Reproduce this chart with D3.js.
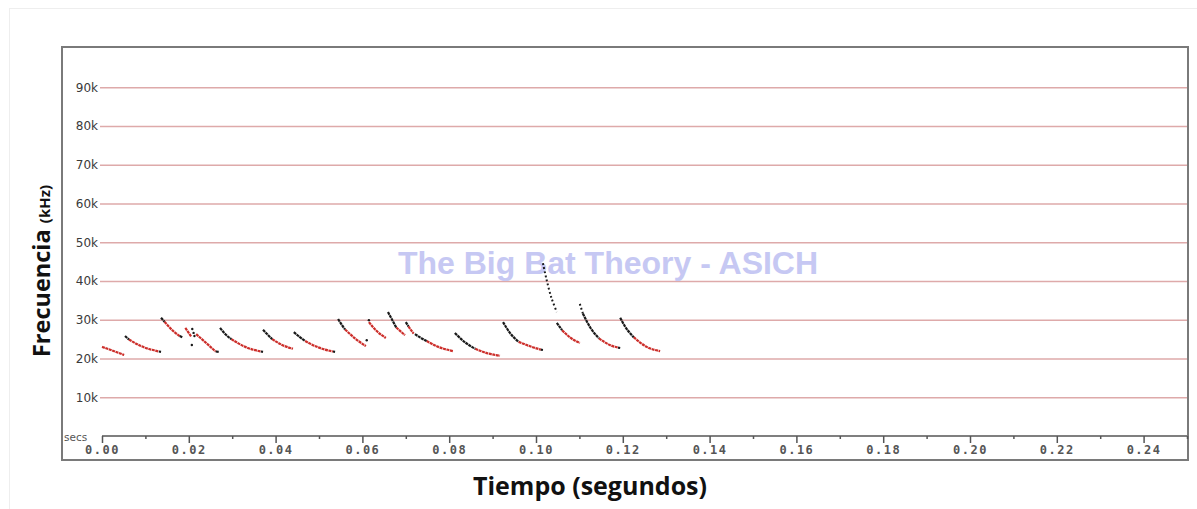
<!DOCTYPE html>
<html>
<head>
<meta charset="utf-8">
<script src="https://cdn.jsdelivr.net/npm/d3@7"></script>
<style>
  body { margin: 0; background: #fff; }
  svg { display: block; }
</style>
</head>
<body>
<svg id="chart" width="1197" height="509"></svg>
<script>
// data: times in ms, frequencies in kHz
var yTicks = [10, 20, 30, 40, 50, 60, 70, 80, 90];
var xMajor = [0, 0.02, 0.04, 0.06, 0.08, 0.10, 0.12, 0.14, 0.16, 0.18, 0.20, 0.22, 0.24];
var xMinor = [0.01, 0.03, 0.05, 0.07, 0.09, 0.11, 0.13, 0.15, 0.17, 0.19, 0.21, 0.23, 0.25];

// black part of each call
var blackSegs = [
  [[5.3, 25.8], [6.2, 24.9]],
  [[13.1, 21.8], [13.6, 21.7]],
  [[13.6, 30.5], [14.4, 29.5]],
  [[17.9, 25.8], [18.5, 25.5]],
  [[26.2, 21.8], [26.9, 21.7]],
  [[27.2, 27.9], [28.5, 26.2], [29.8, 25.0]],
  [[36.6, 21.8], [37.1, 21.7]],
  [[37.1, 27.4], [38.3, 26.0], [39.2, 25.0]],
  [[44.2, 26.8], [45.5, 25.6], [46.8, 24.5]],
  [[53.2, 21.8], [53.7, 21.7]],
  [[54.4, 30.2], [55.3, 28.6], [56.0, 27.5]],
  [[65.9, 32.0], [66.7, 30.3], [67.8, 28.0]],
  [[70.0, 29.4], [70.6, 28.3]],
  [[72.1, 26.3], [73.5, 25.3], [74.8, 24.5]],
  [[81.3, 26.6], [83.5, 24.3], [86.0, 22.5]],
  [[92.4, 29.4], [94.0, 26.6], [96.0, 24.3]],
  [[101.1, 22.3], [101.6, 22.2]],
  [[104.8, 29.2], [106.0, 27.3]],
  [[110.8, 31.6], [112.5, 28.0], [114.5, 25.2]],
  [[118.9, 22.8], [119.4, 22.7]],
  [[119.4, 30.5], [120.5, 28.3], [122.5, 25.5]]
];

// red part of each call
var redSegs = [
  [[0.0, 23.0], [2.5, 22.0], [5.1, 20.9]],
  [[6.2, 24.9], [9.0, 23.2], [13.1, 21.8]],
  [[14.4, 29.5], [16.4, 27.1], [17.9, 25.8]],
  [[19.2, 27.9], [20.6, 25.6]],
  [[21.7, 26.3], [23.5, 24.5], [26.2, 21.8]],
  [[29.8, 25.0], [33.0, 23.0], [36.6, 21.8]],
  [[39.2, 25.0], [41.5, 23.5], [44.0, 22.5]],
  [[46.8, 24.5], [50.0, 22.8], [53.2, 21.8]],
  [[56.0, 27.5], [58.5, 25.0], [60.8, 23.2]],
  [[61.5, 29.4], [63.0, 27.4], [65.4, 25.3]],
  [[67.8, 28.0], [69.8, 26.0]],
  [[70.6, 28.3], [71.8, 26.4]],
  [[74.8, 24.5], [77.5, 23.0], [80.9, 21.9]],
  [[86.0, 22.5], [89.0, 21.3], [91.7, 20.7]],
  [[96.0, 24.3], [99.0, 23.0], [101.1, 22.3]],
  [[106.0, 27.3], [108.0, 25.3], [110.1, 24.0]],
  [[114.5, 25.2], [117.0, 23.5], [118.9, 22.8]],
  [[122.5, 25.5], [125.5, 23.0], [128.6, 21.9]]
];

// sparse dotted sweeps
var sparseSegs = [
  [[101.6, 44.6], [102.4, 40.5], [103.6, 35.5], [104.8, 32.0]],
  [[110.1, 34.1], [110.8, 31.6]]
];

// loose single dots
var looseDots = [[20.8, 27.6], [21.1, 26.6], [21.3, 25.8], [20.7, 23.5], [61.0, 24.7], [61.5, 29.9]];

var svg = d3.select('#chart');

// scales
var x = d3.scaleLinear().domain([0, 0.25]).range([102, 1187]);
var y = d3.scaleLinear().domain([0, 100]).range([436, 48.5]);

// faint outer frame
svg.append('rect')
  .attr('x', 9.5).attr('y', 8.5).attr('width', 1200).attr('height', 520)
  .attr('fill', 'none').attr('stroke', '#eeeeee');

// plot box
svg.append('rect')
  .attr('x', 62).attr('y', 47).attr('width', 1126).attr('height', 413)
  .attr('fill', '#fff').attr('stroke', '#7a7a7a').attr('stroke-width', 2);

// grid + y labels
var yAxis = d3.axisLeft(y)
  .tickValues(yTicks)
  .tickSize(-(1187 - 100))
  .tickPadding(2)
  .tickFormat(function(d){ return d + 'k'; });

var gy = svg.append('g')
  .attr('transform', 'translate(100,0)')
  .call(yAxis);
gy.select('.domain').remove();
gy.selectAll('line').attr('stroke', '#deaaaa').attr('stroke-width', 1.5);
gy.selectAll('text')
  .attr('fill', '#3a3a3a')
  .style('font-family', 'DejaVu Sans, Verdana, sans-serif')
  .style('font-size', '12px');

// x axis
var xAxis = d3.axisBottom(x)
  .tickValues(xMajor)
  .tickSize(7)
  .tickPadding(2)
  .tickFormat(d3.format('.2f'));
var gx = svg.append('g')
  .attr('transform', 'translate(0,436)')
  .call(xAxis);
gx.select('.domain').attr('d', 'M102,0H1187').attr('stroke', '#555').attr('stroke-width', 1.5);
gx.selectAll('line').attr('stroke', '#555').attr('stroke-width', 1.5);
gx.selectAll('text')
  .attr('fill', '#555')
  .style('font-family', 'DejaVu Sans Mono, monospace')
  .style('font-weight', 'bold')
  .style('font-size', '12px')
  .style('letter-spacing', '1.5px');

var gxm = svg.append('g')
  .attr('transform', 'translate(0,436)')
  .call(d3.axisBottom(x).tickValues(xMinor).tickSize(3).tickFormat(''));
gxm.select('.domain').remove();
gxm.selectAll('line').attr('stroke', '#555').attr('stroke-width', 1.5);

svg.append('text')
  .attr('x', 64).attr('y', 441)
  .attr('fill', '#555')
  .style('font-family', 'DejaVu Sans, Verdana, sans-serif')
  .style('font-size', '10.5px')
  .text('secs');

// watermark
svg.append('text')
  .attr('x', 608).attr('y', 274)
  .attr('text-anchor', 'middle')
  .attr('fill', '#c6c8f3')
  .style('font-family', 'Liberation Sans, Arial, sans-serif')
  .style('font-weight', 'bold')
  .style('font-size', '32px')
  .text('The Big Bat Theory - ASICH');

// calls
var line = d3.line()
  .x(function(d){ return x(d[0] / 1000); })
  .y(function(d){ return y(d[1]); })
  .curve(d3.curveMonotoneX);

svg.append('g').selectAll('path.red')
  .data(redSegs)
  .enter().append('path')
  .attr('d', line)
  .attr('fill', 'none')
  .attr('stroke', '#cc2e2a')
  .attr('stroke-width', 2.2)
  .attr('stroke-dasharray', '3 0.6');

svg.append('g').selectAll('path.black')
  .data(blackSegs)
  .enter().append('path')
  .attr('d', line)
  .attr('fill', 'none')
  .attr('stroke', '#1a1a1a')
  .attr('stroke-width', 2.2)
  .attr('stroke-dasharray', '3 0.6');

var lineSteep = d3.line()
  .x(function(d){ return x(d[0] / 1000); })
  .y(function(d){ return y(d[1]); })
  .curve(d3.curveCatmullRom);

svg.append('g').selectAll('path.sparse')
  .data(sparseSegs)
  .enter().append('path')
  .attr('d', lineSteep)
  .attr('fill', 'none')
  .attr('stroke', '#1a1a1a')
  .attr('stroke-width', 2)
  .attr('stroke-dasharray', '1.8 2.4');

svg.append('g').selectAll('circle')
  .data(looseDots)
  .enter().append('circle')
  .attr('cx', function(d){ return x(d[0] / 1000); })
  .attr('cy', function(d){ return y(d[1]); })
  .attr('r', 1.2)
  .attr('fill', '#1a1a1a');

// axis titles
svg.append('text')
  .attr('x', 590).attr('y', 495)
  .attr('text-anchor', 'middle')
  .attr('fill', '#111')
  .style('font-family', 'Open Sans, sans-serif')
  .style('font-weight', 'bold')
  .style('font-size', '25px')
  .text('Tiempo (segundos)');

var yt = svg.append('text')
  .attr('transform', 'translate(50,271) rotate(-90)')
  .attr('text-anchor', 'middle')
  .attr('fill', '#111')
  .style('font-family', 'Open Sans, sans-serif')
  .style('font-weight', 'bold');
yt.append('tspan').style('font-size', '23.5px').text('Frecuencia ');
yt.append('tspan').style('font-size', '15px').text('(kHz)');
</script>
</body>
</html>
